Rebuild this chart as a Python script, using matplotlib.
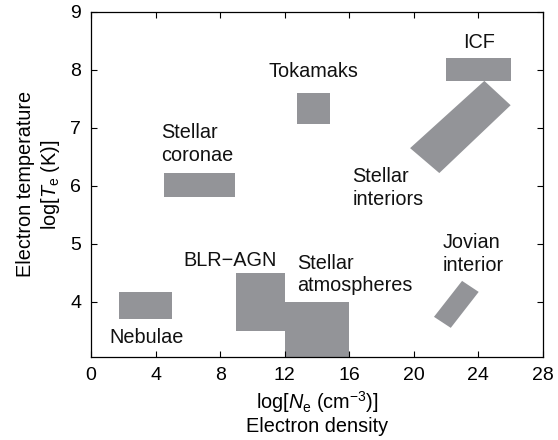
import matplotlib
matplotlib.use("Agg")
import matplotlib.pyplot as plt
from matplotlib.patches import Polygon

plt.rcParams['font.family'] = ['Liberation Sans', 'DejaVu Sans']
plt.rcParams['mathtext.fontset'] = 'custom'
plt.rcParams['mathtext.rm'] = 'Liberation Sans'
plt.rcParams['mathtext.it'] = 'Liberation Sans:italic'

# axis-aligned regions: (xmin, xmax, ymin, ymax)
box_names = ['Nebulae', 'BLR-AGN', 'Stellar atmospheres', 'Stellar coronae', 'Tokamaks', 'ICF']
box_x0 = [1.75, 9.0, 12.05, 4.5, 12.75, 22.0]
box_x1 = [5.0, 12.0, 16.0, 8.9, 14.8, 26.0]
box_y0 = [3.7, 3.5, 2.9, 5.8, 7.07, 7.8]
box_y1 = [4.17, 4.5, 4.0, 6.22, 7.6, 8.2]

# tilted regions: corner points
interior_x = [19.77, 24.37, 26.0, 21.58]
interior_y = [6.65, 7.81, 7.39, 6.22]
jovian_x = [21.25, 22.99, 24.02, 22.29]
jovian_y = [3.74, 4.36, 4.17, 3.55]

# labels
label_text = ['ICF', 'Tokamaks', 'Stellar\ncoronae', 'Stellar\ninteriors',
              'Jovian\ninterior', 'Stellar\natmospheres', 'BLR\u2212AGN', 'Nebulae']
label_x = [24.05, 13.8, 4.35, 16.2, 21.8, 12.75, 8.6, 3.45]
label_y = [8.47, 7.98, 6.72, 5.96, 4.82, 4.47, 4.71, 3.39]
label_ha = ['center', 'center', 'left', 'left', 'left', 'left', 'center', 'center']

gray = '#939498'
fs = 14.3

fig = plt.figure(figsize=(5.58, 4.40), dpi=100)
ax = fig.add_axes([0.163, 0.189, 0.81, 0.784])

for i in range(len(box_names)):
    xs = [box_x0[i], box_x1[i], box_x1[i], box_x0[i]]
    ys = [box_y0[i], box_y0[i], box_y1[i], box_y1[i]]
    ax.add_patch(Polygon(list(zip(xs, ys)), closed=True, facecolor=gray, edgecolor='none'))

ax.add_patch(Polygon(list(zip(interior_x, interior_y)), closed=True, facecolor=gray, edgecolor='none'))
ax.add_patch(Polygon(list(zip(jovian_x, jovian_y)), closed=True, facecolor=gray, edgecolor='none'))

for t, x, y, ha in zip(label_text, label_x, label_y, label_ha):
    ax.text(x, y, t, ha=ha, va='center', fontsize=fs, color='#111111', linespacing=1.25)

ax.set_xlim(0, 28)
ax.set_ylim(3.05, 9)
ax.set_xticks(range(0, 29, 4))
ax.set_yticks(range(4, 10))
ax.tick_params(direction='in', top=True, right=True, labelsize=14, length=4, width=0.8, pad=7)
for s in ax.spines.values():
    s.set_linewidth(0.9)

ax.set_xlabel('log[$N_{\\rm e}$ (cm$^{\\minus 3}$)]\nElectron density', fontsize=fs, labelpad=4, linespacing=1.1)
ax.set_ylabel('Electron temperature\nlog[$T_{\\rm e}$ (K)]', fontsize=fs, labelpad=6, linespacing=1.2)

fig.savefig('out.png', dpi=100)
